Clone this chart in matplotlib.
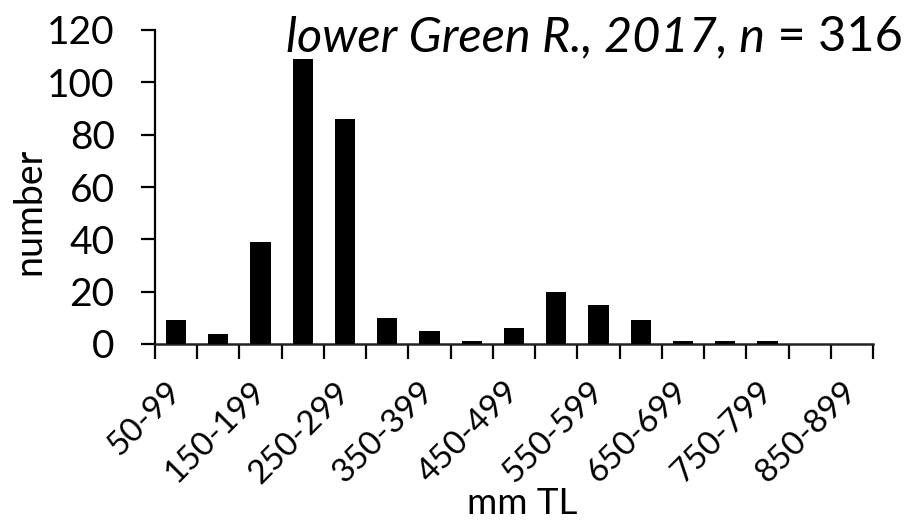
import numpy as np
import matplotlib
matplotlib.use("Agg")
import matplotlib.pyplot as plt
import matplotlib.transforms as mtransforms

categories = ["50-99", "100-149", "150-199", "200-249", "250-299", "300-349",
              "350-399", "400-449", "450-499", "500-549", "550-599", "600-649",
              "650-699", "700-749", "750-799", "800-849", "850-899"]
counts = [9, 4, 39, 109, 86, 10, 5, 1, 6, 20, 15, 9, 1, 1, 1, 0, 0]
yticks = [0, 20, 40, 60, 80, 100, 120]

FONT = "Lato"
plt.rcParams['font.family'] = [FONT, 'DejaVu Sans']

fig = plt.figure(figsize=(9.05, 5.22), dpi=100)
ax = fig.add_axes([155/905, 1-344/522, (873-155)/905, (344-30)/522])

x = np.arange(len(categories))
ax.bar(x, counts, width=0.48, color='black', zorder=3)

ax.set_xlim(-0.5, len(categories)-0.5)
ax.set_ylim(0, 120)
ax.set_yticks(yticks)
ax.set_yticklabels([str(v) for v in yticks], fontsize=28)

ax.set_xticks(np.arange(-0.5, len(categories), 1.0))
ax.set_xticklabels([])
ax.set_xticks(x[::2], [categories[i] for i in x[::2]], minor=True)
shift = mtransforms.ScaledTranslation(17/100, 0, fig.dpi_scale_trans)
for lab in ax.get_xticklabels(minor=True):
    lab.set_rotation(45)
    lab.set_ha('right')
    lab.set_va('center')
    lab.set_rotation_mode('anchor')
    lab.set_fontsize(24)
    lab.set_transform(lab.get_transform() + shift)

ax.tick_params(axis='x', which='major', direction='out', length=11, width=1.6, colors='black')
ax.tick_params(axis='x', which='minor', length=0, pad=31)
ax.tick_params(axis='y', direction='out', length=10, width=1.6, pad=19)

for s in ['top', 'right']:
    ax.spines[s].set_visible(False)
ax.spines['left'].set_linewidth(1.6)
ax.spines['bottom'].set_linewidth(1.8)
ax.spines['bottom'].set_color('#222222')

fig.text(29/905, 1-211/522, "number", rotation=90, ha='center', va='center', fontsize=27)
fig.text(522/905, 1-503/522, "mm TL", ha='center', va='center', fontsize=26.5)

t1 = fig.text(903/905, 1-51/522, " = 316", ha='right', va='baseline', fontsize=35)
ax.annotate("lower Green R., 2017, n", xy=(0, 0), xycoords=t1, ha='right', va='bottom',
            fontsize=35, style='italic', annotation_clip=False)
fig.savefig("out.png", dpi=100)
